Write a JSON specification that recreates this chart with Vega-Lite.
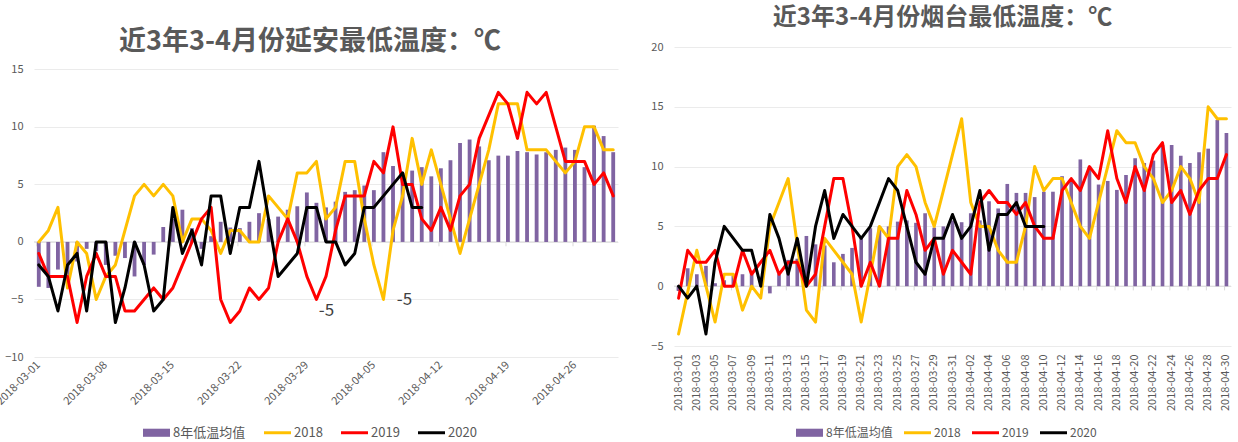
{
  "$schema": "https://vega.github.io/schema/vega-lite/v6.json",
  "background": "white",
  "padding": {"left": -6, "top": 6, "right": 0, "bottom": 0},
  "bounds": "flush",
  "spacing": 56,
  "config": {
    "font": "Noto Sans CJK SC",
    "view": {"stroke": null},
    "axis": {"labelColor": "#595959", "labelFont": "Noto Sans CJK SC", "labelFontSize": 11, "domain": false, "ticks": false},
    "legend": {
      "orient": "none", "direction": "horizontal", "title": null,
      "labelColor": "#595959", "labelFontSize": 13, "labelFont": "Noto Sans CJK SC",
      "symbolSize": 729, "columnPadding": 18, "labelOffset": 3, "symbolStrokeWidth": 0
    }
  },
  "datasets": {
    "yanan": [
      {"d":"2018-03-01","avg":-3.9,"2018":0,"2019":-1,"2020":-2},
      {"d":"2018-03-02","avg":-4.0,"2018":1,"2019":-3,"2020":-3},
      {"d":"2018-03-03","avg":-2.4,"2018":3,"2019":-3,"2020":-6},
      {"d":"2018-03-04","avg":-3.0,"2018":-4,"2019":-3,"2020":-2},
      {"d":"2018-03-05","avg":-1.7,"2018":0,"2019":-7,"2020":-1},
      {"d":"2018-03-06","avg":-0.6,"2018":-1,"2019":-3,"2020":-6},
      {"d":"2018-03-07","avg":-0.8,"2018":-5,"2019":-1,"2020":0},
      {"d":"2018-03-08","avg":-2.0,"2018":-3,"2019":-3,"2020":0},
      {"d":"2018-03-09","avg":-1.2,"2018":-2,"2019":-3,"2020":-7},
      {"d":"2018-03-10","avg":-1.4,"2018":1,"2019":-6,"2020":-4},
      {"d":"2018-03-11","avg":-3.0,"2018":4,"2019":-6,"2020":0},
      {"d":"2018-03-12","avg":-2.0,"2018":5,"2019":-5,"2020":-2},
      {"d":"2018-03-13","avg":-1.1,"2018":4,"2019":-4,"2020":-6},
      {"d":"2018-03-14","avg":1.3,"2018":5,"2019":-5,"2020":-5},
      {"d":"2018-03-15","avg":2.0,"2018":4,"2019":-4,"2020":3},
      {"d":"2018-03-16","avg":2.8,"2018":0,"2019":-2,"2020":-1},
      {"d":"2018-03-17","avg":1.2,"2018":2,"2019":0,"2020":1},
      {"d":"2018-03-18","avg":-0.6,"2018":2,"2019":2,"2020":-2},
      {"d":"2018-03-19","avg":0.5,"2018":1,"2019":3,"2020":4},
      {"d":"2018-03-20","avg":1.75,"2018":-1,"2019":-5,"2020":4},
      {"d":"2018-03-21","avg":1.25,"2018":1,"2019":-7,"2020":-1},
      {"d":"2018-03-22","avg":1.2,"2018":1,"2019":-6,"2020":3},
      {"d":"2018-03-23","avg":1.75,"2018":0,"2019":-4,"2020":3},
      {"d":"2018-03-24","avg":2.5,"2018":0,"2019":-5,"2020":7},
      {"d":"2018-03-25","avg":2.0,"2018":4,"2019":-4,"2020":2},
      {"d":"2018-03-26","avg":2.2,"2018":3,"2019":0,"2020":-3},
      {"d":"2018-03-27","avg":2.8,"2018":2,"2019":2,"2020":-2},
      {"d":"2018-03-28","avg":3.1,"2018":6,"2019":0,"2020":-1},
      {"d":"2018-03-29","avg":4.3,"2018":6,"2019":-3,"2020":3},
      {"d":"2018-03-30","avg":3.4,"2018":7,"2019":-5,"2020":3},
      {"d":"2018-03-31","avg":3.0,"2018":2,"2019":-3,"2020":0},
      {"d":"2018-04-01","avg":3.5,"2018":3,"2019":1,"2020":0},
      {"d":"2018-04-02","avg":4.35,"2018":7,"2019":4,"2020":-2},
      {"d":"2018-04-03","avg":4.5,"2018":7,"2019":4,"2020":-1},
      {"d":"2018-04-04","avg":4.9,"2018":2,"2019":4,"2020":3},
      {"d":"2018-04-05","avg":4.5,"2018":-2,"2019":7,"2020":3},
      {"d":"2018-04-06","avg":7.8,"2018":-5,"2019":6,"2020":4},
      {"d":"2018-04-07","avg":6.6,"2018":1,"2019":10,"2020":5},
      {"d":"2018-04-08","avg":6.0,"2018":4,"2019":5,"2020":6},
      {"d":"2018-04-09","avg":6.2,"2018":9,"2019":5,"2020":3},
      {"d":"2018-04-10","avg":6.5,"2018":5,"2019":2,"2020":3},
      {"d":"2018-04-11","avg":5.7,"2018":8,"2019":1},
      {"d":"2018-04-12","avg":6.4,"2018":5,"2019":3},
      {"d":"2018-04-13","avg":7.1,"2018":2,"2019":1},
      {"d":"2018-04-14","avg":8.6,"2018":-1,"2019":4},
      {"d":"2018-04-15","avg":8.9,"2018":2,"2019":5},
      {"d":"2018-04-16","avg":8.3,"2018":5,"2019":9},
      {"d":"2018-04-17","avg":7.1,"2018":8,"2019":11},
      {"d":"2018-04-18","avg":7.5,"2018":12,"2019":13},
      {"d":"2018-04-19","avg":7.5,"2018":12,"2019":12},
      {"d":"2018-04-20","avg":7.9,"2018":12,"2019":9},
      {"d":"2018-04-21","avg":7.8,"2018":8,"2019":13},
      {"d":"2018-04-22","avg":7.6,"2018":8,"2019":12},
      {"d":"2018-04-23","avg":7.8,"2018":8,"2019":13},
      {"d":"2018-04-24","avg":8.0,"2018":7,"2019":10},
      {"d":"2018-04-25","avg":8.2,"2018":6,"2019":7},
      {"d":"2018-04-26","avg":8.0,"2018":7,"2019":7},
      {"d":"2018-04-27","avg":6.5,"2018":10,"2019":7},
      {"d":"2018-04-28","avg":10.1,"2018":10,"2019":5},
      {"d":"2018-04-29","avg":9.2,"2018":8,"2019":6},
      {"d":"2018-04-30","avg":7.8,"2018":8,"2019":4}
    ],
    "yantai": [
      {"d":"2018-03-01","avg":-0.4,"2018":-4,"2019":-1,"2020":0},
      {"d":"2018-03-02","avg":1.5,"2018":-0.5,"2019":3,"2020":-1},
      {"d":"2018-03-03","avg":1.0,"2018":3,"2019":2,"2020":0},
      {"d":"2018-03-04","avg":1.7,"2018":0,"2019":2,"2020":-4},
      {"d":"2018-03-05","avg":0.25,"2018":-3,"2019":3,"2020":2},
      {"d":"2018-03-06","avg":0.5,"2018":1,"2019":0,"2020":5},
      {"d":"2018-03-07","avg":0.9,"2018":1,"2019":0,"2020":4},
      {"d":"2018-03-08","avg":1.0,"2018":-2,"2019":3,"2020":3},
      {"d":"2018-03-09","avg":1.3,"2018":0,"2019":1,"2020":3},
      {"d":"2018-03-10","avg":0.8,"2018":-1,"2019":2,"2020":0},
      {"d":"2018-03-11","avg":-0.6,"2018":5,"2019":3,"2020":6},
      {"d":"2018-03-12","avg":1.0,"2018":7,"2019":1,"2020":4},
      {"d":"2018-03-13","avg":2.2,"2018":9,"2019":2,"2020":1},
      {"d":"2018-03-14","avg":2.3,"2018":3.5,"2019":2,"2020":4},
      {"d":"2018-03-15","avg":4.2,"2018":-2,"2019":0,"2020":0},
      {"d":"2018-03-16","avg":3.5,"2018":-3,"2019":1,"2020":5},
      {"d":"2018-03-17","avg":3.4,"2018":4,"2019":5,"2020":8},
      {"d":"2018-03-18","avg":2.0,"2018":3,"2019":9,"2020":4},
      {"d":"2018-03-19","avg":2.7,"2018":2,"2019":9,"2020":6},
      {"d":"2018-03-20","avg":3.2,"2018":1,"2019":5,"2020":5},
      {"d":"2018-03-21","avg":4.15,"2018":-3,"2019":0,"2020":4},
      {"d":"2018-03-22","avg":4.85,"2018":1,"2019":2,"2020":5},
      {"d":"2018-03-23","avg":5.0,"2018":5,"2019":0,"2020":7},
      {"d":"2018-03-24","avg":5.0,"2018":4,"2019":4,"2020":9},
      {"d":"2018-03-25","avg":5.4,"2018":10,"2019":4,"2020":8},
      {"d":"2018-03-26","avg":5.5,"2018":11,"2019":8,"2020":5},
      {"d":"2018-03-27","avg":5.3,"2018":10,"2019":6,"2020":2},
      {"d":"2018-03-28","avg":6.1,"2018":7,"2019":3,"2020":1},
      {"d":"2018-03-29","avg":4.9,"2018":5,"2019":4,"2020":4},
      {"d":"2018-03-30","avg":5.0,"2018":8,"2019":1,"2020":4},
      {"d":"2018-03-31","avg":5.5,"2018":11,"2019":3,"2020":6},
      {"d":"2018-04-01","avg":5.35,"2018":14,"2019":2,"2020":4},
      {"d":"2018-04-02","avg":6.1,"2018":7,"2019":1,"2020":5},
      {"d":"2018-04-03","avg":5.5,"2018":5,"2019":7,"2020":8},
      {"d":"2018-04-04","avg":7.1,"2018":5,"2019":8,"2020":3},
      {"d":"2018-04-05","avg":6.5,"2018":3,"2019":7,"2020":6},
      {"d":"2018-04-06","avg":8.55,"2018":2,"2019":7,"2020":6},
      {"d":"2018-04-07","avg":7.8,"2018":2,"2019":6,"2020":7},
      {"d":"2018-04-08","avg":7.8,"2018":5,"2019":7,"2020":5},
      {"d":"2018-04-09","avg":7.45,"2018":10,"2019":5,"2020":5},
      {"d":"2018-04-10","avg":7.9,"2018":8,"2019":4,"2020":5},
      {"d":"2018-04-11","avg":7.9,"2018":9,"2019":4},
      {"d":"2018-04-12","avg":9.2,"2018":9,"2019":8},
      {"d":"2018-04-13","avg":8.9,"2018":7,"2019":9},
      {"d":"2018-04-14","avg":10.6,"2018":5,"2019":8},
      {"d":"2018-04-15","avg":10.0,"2018":4,"2019":10},
      {"d":"2018-04-16","avg":8.5,"2018":7,"2019":9},
      {"d":"2018-04-17","avg":8.8,"2018":10,"2019":13},
      {"d":"2018-04-18","avg":8.05,"2018":13,"2019":9},
      {"d":"2018-04-19","avg":9.3,"2018":12,"2019":7},
      {"d":"2018-04-20","avg":10.7,"2018":12,"2019":10},
      {"d":"2018-04-21","avg":10.3,"2018":10,"2019":8},
      {"d":"2018-04-22","avg":10.5,"2018":9,"2019":11},
      {"d":"2018-04-23","avg":11.8,"2018":7,"2019":12},
      {"d":"2018-04-24","avg":11.8,"2018":8,"2019":7},
      {"d":"2018-04-25","avg":10.9,"2018":10,"2019":8},
      {"d":"2018-04-26","avg":10.3,"2018":9,"2019":6},
      {"d":"2018-04-27","avg":11.2,"2018":7,"2019":8},
      {"d":"2018-04-28","avg":11.5,"2018":15,"2019":9},
      {"d":"2018-04-29","avg":13.9,"2018":14,"2019":9},
      {"d":"2018-04-30","avg":12.8,"2018":14,"2019":11}
    ]
  },
  "resolve": {"scale": {"color": "independent", "x": "independent", "y": "independent"}, "legend": {"color": "independent"}},
  "hconcat": [
    {
      "width": 584,
      "height": 310,
      "title": {"text": "近3年3-4月份延安最低温度：℃", "fontSize": 27, "fontWeight": "bold", "color": "#595959", "font": "Noto Sans CJK SC", "offset": -9, "dx": -16, "frame": "group"},
      "data": {"name": "yanan"},
      "layer": [
        {
          "data": {"values": [{}]},
          "mark": {"type": "rule", "color": "#d9d9d9", "strokeWidth": 1},
          "encoding": {"y": {"datum": 0, "type": "quantitative"}}
        },
        {
          "data": {"values": [{"d":"2018-03-01"},{"d":"2018-03-08"},{"d":"2018-03-15"},{"d":"2018-03-22"},{"d":"2018-03-29"},{"d":"2018-04-05"},{"d":"2018-04-12"},{"d":"2018-04-19"},{"d":"2018-04-26"}]},
          "mark": {"type": "rule", "color": "#d9d9d9", "strokeWidth": 1},
          "encoding": {
            "x": {"field": "d", "type": "ordinal", "title": null, "bandPosition": 0},
            "y": {"datum": 0, "type": "quantitative"},
            "y2": {"datum": -0.38}
          }
        },
        {
          "mark": {"type": "bar", "color": "#8064a2"},
          "encoding": {
            "x": {"field": "d", "type": "ordinal", "title": null, "scale": {"paddingInner": 0.6, "paddingOuter": 0.3},
                  "axis": {"values": ["2018-03-01","2018-03-08","2018-03-15","2018-03-22","2018-03-29","2018-04-05","2018-04-12","2018-04-19","2018-04-26"], "labelAngle": -45, "bandPosition": 0, "labelPadding": 6, "grid": false}},
            "y": {"field": "avg", "type": "quantitative", "title": null, "scale": {"domain": [-10, 16.94], "nice": false, "zero": false},
                  "axis": {"values": [-10, -5, 0, 5, 10, 15], "grid": true, "gridColor": "#ebebeb", "labelPadding": 11}},
            "color": {"datum": "8年低温均值", "type": "nominal",
                      "scale": {"domain": ["8年低温均值", "2018", "2019", "2020"], "range": ["#8064a2", "#ffc000", "#ff0000", "#000000"]},
                      "legend": {"legendX": 109, "legendY": 372,
                        "encode": {"symbols": {"update": {
                          "shape": {"signal": "datum.value === '8年低温均值' ? 'M-1,-0.3L1,-0.3L1,0.3L-1,0.3Z' : 'M-1,-0.11L1,-0.11L1,0.11L-1,0.11Z'"},
                          "fill": {"signal": "datum.value === '8年低温均值' ? '#8064a2' : datum.value === '2018' ? '#ffc000' : datum.value === '2019' ? '#ff0000' : '#000000'"},
                          "stroke": {"value": "transparent"},
                          "opacity": {"value": 1}, "fillOpacity": {"value": 1}}}}}}
          }
        },
        {
          "transform": [{"fold": ["2018", "2019", "2020"], "as": ["k", "v"]}],
          "mark": {"type": "line", "strokeWidth": 3, "strokeJoin": "round", "strokeCap": "round"},
          "encoding": {
            "x": {"field": "d", "type": "ordinal", "title": null},
            "y": {"field": "v", "type": "quantitative", "title": null},
            "color": {"field": "k", "type": "nominal"}
          }
        },
        {
          "data": {"values": [{"d": "2018-03-30", "v": -5, "t": "-5"}]},
          "mark": {"type": "text", "fontSize": 17, "color": "#404040", "dx": 10, "dy": 12},
          "encoding": {
            "x": {"field": "d", "type": "ordinal", "title": null},
            "y": {"field": "v", "type": "quantitative", "title": null},
            "text": {"field": "t"}
          }
        },
        {
          "data": {"values": [{"d": "2018-04-06", "v": -5, "t": "-5"}]},
          "mark": {"type": "text", "fontSize": 17, "color": "#404040", "dx": 21, "dy": 1},
          "encoding": {
            "x": {"field": "d", "type": "ordinal", "title": null},
            "y": {"field": "v", "type": "quantitative", "title": null},
            "text": {"field": "t"}
          }
        }
      ]
    },
    {
      "width": 557,
      "height": 299,
      "title": {"text": "近3年3-4月份烟台最低温度：℃", "fontSize": 24, "fontWeight": "bold", "color": "#595959", "font": "Noto Sans CJK SC", "offset": 11, "dx": -10, "frame": "group"},
      "data": {"name": "yantai"},
      "layer": [
        {
          "data": {"values": [{}]},
          "mark": {"type": "rule", "color": "#d9d9d9", "strokeWidth": 1},
          "encoding": {"y": {"datum": 0, "type": "quantitative"}}
        },
        {
          "data": {"values": [{"d":"2018-03-01"},{"d":"2018-03-03"},{"d":"2018-03-05"},{"d":"2018-03-07"},{"d":"2018-03-09"},{"d":"2018-03-11"},{"d":"2018-03-13"},{"d":"2018-03-15"},{"d":"2018-03-17"},{"d":"2018-03-19"},{"d":"2018-03-21"},{"d":"2018-03-23"},{"d":"2018-03-25"},{"d":"2018-03-27"},{"d":"2018-03-29"},{"d":"2018-03-31"},{"d":"2018-04-02"},{"d":"2018-04-04"},{"d":"2018-04-06"},{"d":"2018-04-08"},{"d":"2018-04-10"},{"d":"2018-04-12"},{"d":"2018-04-14"},{"d":"2018-04-16"},{"d":"2018-04-18"},{"d":"2018-04-20"},{"d":"2018-04-22"},{"d":"2018-04-24"},{"d":"2018-04-26"},{"d":"2018-04-28"},{"d":"2018-04-30"}]},
          "mark": {"type": "rule", "color": "#d9d9d9", "strokeWidth": 1},
          "encoding": {
            "x": {"field": "d", "type": "ordinal", "title": null, "bandPosition": 0},
            "y": {"datum": 0, "type": "quantitative"},
            "y2": {"datum": -0.35}
          }
        },
        {
          "mark": {"type": "bar", "color": "#8064a2"},
          "encoding": {
            "x": {"field": "d", "type": "ordinal", "title": null, "scale": {"paddingInner": 0.6, "paddingOuter": 0.3},
                  "axis": {"values": ["2018-03-01","2018-03-03","2018-03-05","2018-03-07","2018-03-09","2018-03-11","2018-03-13","2018-03-15","2018-03-17","2018-03-19","2018-03-21","2018-03-23","2018-03-25","2018-03-27","2018-03-29","2018-03-31","2018-04-02","2018-04-04","2018-04-06","2018-04-08","2018-04-10","2018-04-12","2018-04-14","2018-04-16","2018-04-18","2018-04-20","2018-04-22","2018-04-24","2018-04-26","2018-04-28","2018-04-30"], "labelAngle": 270, "labelPadding": 8, "grid": false}},
            "y": {"field": "avg", "type": "quantitative", "title": null, "scale": {"domain": [-5, 20], "nice": false, "zero": false},
                  "axis": {"values": [-5, 0, 5, 10, 15, 20], "grid": true, "gridColor": "#ebebeb", "labelPadding": 11}},
            "color": {"datum": "8年低温均值", "type": "nominal",
                      "scale": {"domain": ["8年低温均值", "2018", "2019", "2020"], "range": ["#8064a2", "#ffc000", "#ff0000", "#000000"]},
                      "legend": {"legendX": 122, "legendY": 372, "labelFontSize": 12, "columnPadding": 11,
                        "encode": {"symbols": {"update": {
                          "shape": {"signal": "datum.value === '8年低温均值' ? 'M-1,-0.3L1,-0.3L1,0.3L-1,0.3Z' : 'M-1,-0.11L1,-0.11L1,0.11L-1,0.11Z'"},
                          "fill": {"signal": "datum.value === '8年低温均值' ? '#8064a2' : datum.value === '2018' ? '#ffc000' : datum.value === '2019' ? '#ff0000' : '#000000'"},
                          "stroke": {"value": "transparent"},
                          "opacity": {"value": 1}, "fillOpacity": {"value": 1}}}}}}
          }
        },
        {
          "transform": [{"fold": ["2018", "2019", "2020"], "as": ["k", "v"]}],
          "mark": {"type": "line", "strokeWidth": 3, "strokeJoin": "round", "strokeCap": "round"},
          "encoding": {
            "x": {"field": "d", "type": "ordinal", "title": null},
            "y": {"field": "v", "type": "quantitative", "title": null},
            "color": {"field": "k", "type": "nominal"}
          }
        }
      ]
    }
  ]
}
